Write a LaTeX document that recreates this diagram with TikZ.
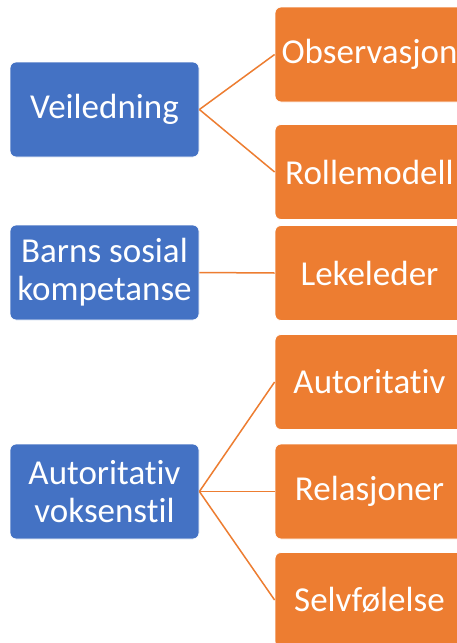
\documentclass[tikz,border=0pt]{standalone}
\usepackage{fontspec}
\setmainfont[Ligatures={NoCommon,NoContextual}]{Carlito}
\definecolor{boxblue}{HTML}{4472C4}
\definecolor{boxorange}{HTML}{ED7D31}
\begin{document}
\begin{tikzpicture}[x=1pt,y=-1pt,
  base/.style={rounded corners=6pt, draw=white, line width=0.8pt, text=white,
    minimum width=189pt, minimum height=95pt, align=center, inner sep=0pt,
    font=\fontsize{35}{38}\selectfont},
  parent/.style={base, fill=boxblue},
  child/.style={base, fill=boxorange},
  link/.style={draw=boxorange, line width=1.5pt}]
\useasboundingbox (0,0) rectangle (457,643);
\clip (0,0) rectangle (457,643);
\fill[white] (0,0) rectangle (457,643);
\node[parent] (v) at (104.5,109.5) {Veiledning};
\node[parent] (b) at (104.5,272.5) {Barns sosial\\kompetanse};
\node[parent] (a) at (104.5,491.5) {Autoritativ\\voksenstil};
\node[child] (o) at (369.5,54.5) {Observasjon};
\node[child] (r) at (369.5,172) {Rollemodell};
\node[child] (l) at (369.5,273) {Lekeleder};
\node[child] (au) at (369.5,382) {Autoritativ};
\node[child] (re) at (369.5,491.5) {Relasjoner};
\node[child] (s) at (369.5,600) {Selvfølelse};
\draw[link] (v.east) -- (o.west);
\draw[link] (v.east) -- (r.west);
\draw[link] (b.east) -- (l.west);
\draw[link] (a.east) -- (au.west);
\draw[link] (a.east) -- (re.west);
\draw[link] (a.east) -- (s.west);
\end{tikzpicture}
\end{document}
